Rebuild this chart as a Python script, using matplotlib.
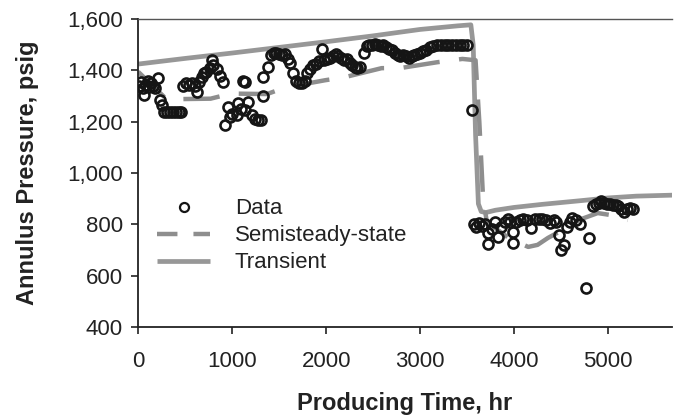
import matplotlib
matplotlib.use("Agg")
import matplotlib.pyplot as plt
from matplotlib.ticker import FuncFormatter
from matplotlib.lines import Line2D

plt.rcParams['font.family'] = ['Liberation Sans', 'DejaVu Sans']

# ---- data ----
data_t = [10, 30, 50, 60, 80, 100, 120, 140, 160, 180, 210, 235, 255, 280, 310, 340, 370, 400, 430, 460,
          480, 510, 540, 570, 600, 625, 650, 680, 700, 720, 760, 785, 800, 840, 870, 900,
          925, 955, 975, 1000, 1050, 1060, 1090, 1115, 1135, 1135, 1165, 1210, 1245, 1280, 1310, 1330,
          1330, 1380, 1410, 1440, 1470, 1500, 1530, 1560, 1590, 1620, 1650, 1680, 1710, 1740, 1770,
          1800, 1830, 1860, 1890, 1920, 1955, 1980, 2010, 2040, 2070, 2100, 2130, 2160, 2190, 2220,
          2250, 2280, 2310, 2330, 2360,
          2400, 2430, 2460, 2490, 2520, 2550, 2580, 2610, 2640, 2670, 2700, 2730, 2760, 2790, 2820,
          2850, 2880, 2910, 2940, 2970, 3000, 3030, 3060, 3100, 3140, 3180, 3220, 3260, 3300, 3340,
          3380, 3420, 3460, 3500, 3550,
          3570, 3600, 3630, 3660, 3690, 3720, 3720, 3760, 3800, 3830, 3860, 3900, 3930, 3960, 3990,
          3990, 4020, 4060, 4100, 4140, 4180, 4220, 4260, 4300, 4340, 4380, 4420, 4450, 4480, 4500,
          4530, 4560, 4590, 4620, 4660, 4700, 4770, 4800, 4840, 4870, 4900, 4930, 4960, 4990, 5020,
          5050, 5080, 5110, 5140, 5170, 5200, 5230, 5260]
data_p = [1340, 1355, 1330, 1305, 1345, 1360, 1335, 1350, 1340, 1330, 1370, 1285, 1265, 1240, 1240, 1240, 1240, 1240, 1240, 1240,
          1340, 1350, 1345, 1350, 1340, 1315, 1355, 1375, 1390, 1395, 1410, 1440, 1420, 1405, 1380, 1355,
          1187, 1257, 1218, 1230, 1226, 1273, 1250, 1360, 1355, 1245, 1277, 1226, 1210, 1205, 1205, 1300,
          1375, 1413, 1460, 1470, 1470, 1465, 1460, 1465, 1445, 1430, 1390, 1360, 1350, 1350, 1360,
          1390, 1405, 1420, 1425, 1435, 1483, 1440, 1445, 1450, 1455, 1465, 1455, 1450, 1440, 1445,
          1430, 1420, 1415, 1410, 1415,
          1470, 1495, 1500, 1500, 1505, 1500, 1495, 1500, 1490, 1485, 1480, 1470, 1460, 1455, 1460,
          1455, 1450, 1455, 1460, 1465, 1470, 1475, 1480, 1490, 1495, 1500, 1500, 1500, 1500, 1500,
          1500, 1500, 1500, 1500, 1245,
          800, 790, 805, 795, 800, 765, 725, 780, 810, 750, 790, 810, 820, 810, 770,
          727, 810, 815, 820, 815, 785, 820, 820, 820, 815, 805, 815, 810, 758, 700,
          720, 790, 810, 825, 815, 800, 553, 747, 870, 880, 885, 890, 885, 880, 880,
          875, 875, 870, 860, 850, 860, 865, 860]

semi_t = [0, 290, 370, 770, 880, 980, 1370, 1500, 1590, 1990, 2100, 2200, 2590, 2800, 3180, 3450, 3590,
          3630, 3670, 3710, 3800, 3950, 4150, 4250, 4360, 4550, 4710, 4890, 5050, 5210]
semi_p = [1395, 1292, 1288, 1290, 1300, 1310, 1308, 1325, 1335, 1362, 1368, 1374, 1409, 1410, 1432, 1445, 1440,
          1200, 900, 810, 785, 745, 712, 720, 747, 785, 820, 844, 835, 817]

trans_t = [0, 500, 1000, 1500, 2000, 2500, 3000, 3400, 3540, 3565, 3590, 3620, 3650, 3700, 3800, 4000,
           4300, 4700, 5000, 5300, 5700]
trans_p = [1425, 1447, 1468, 1490, 1512, 1535, 1560, 1574, 1578, 1500, 1150, 880, 850, 846, 855, 866,
           878, 892, 903, 910, 914]

x_ticks = [0, 1000, 2000, 3000, 4000, 5000]
y_ticks = [400, 600, 800, 1000, 1200, 1400, 1600]

# ---- figure ----
fig = plt.figure(figsize=(6.74, 4.17), dpi=100)
ax = fig.add_axes([0.205, 0.216, 0.792, 0.738])

gray = '#979797'
ax.plot(trans_t, trans_p, color=gray, lw=3.4, solid_capstyle='butt', zorder=2)
ax.plot(semi_t, semi_p, color='#8e8e8e', lw=3.2, dashes=(8.2, 4.4), zorder=2)
ax.plot(data_t, data_p, ls='none', marker='o', ms=7.2, mfc='none', mec='#151515', mew=1.9, zorder=3)

h_data = Line2D([], [], ls='none', marker='o', ms=6.5, mfc='none', mec='#151515', mew=1.6)
h_semi = Line2D([], [], color='#8e8e8e', lw=3.2, dashes=(4.6, 3.6))
h_trans = Line2D([], [], color=gray, lw=3.4, solid_capstyle='butt')

ax.set_xlim(0, 5680)
ax.set_ylim(400, 1600)
ax.set_xticks(x_ticks)
ax.set_yticks(y_ticks)
ax.yaxis.set_major_formatter(FuncFormatter(lambda v, p: f"{int(v):,}"))
ax.tick_params(labelsize=16, direction='out', length=5, width=1.2, colors='#222222', pad=6)
ax.tick_params(axis='x', pad=12)

for s in ['left', 'bottom']:
    ax.spines[s].set_linewidth(1.3)
    ax.spines[s].set_color('#222222')
ax.spines['right'].set_visible(False)
ax.spines['top'].set_linewidth(1.0)
ax.spines['top'].set_color('#555555')

ax.set_xlabel('Producing Time, hr', fontsize=17, fontweight='bold', labelpad=15, color='#222222')
ax.set_ylabel('Annulus Pressure, psig', fontsize=17, fontweight='bold', labelpad=20, color='#222222')

leg = ax.legend([h_data, h_semi, h_trans], ['Data', 'Semisteady-state', 'Transient'], loc='upper left',
                bbox_to_anchor=(0.035, 0.418), frameon=False, fontsize=16, handlelength=2.4,
                handletextpad=1.1, labelspacing=0.27, borderpad=0, borderaxespad=0)
for t in leg.get_texts():
    t.set_color('#222222')

fig.savefig('out.png', dpi=100)
